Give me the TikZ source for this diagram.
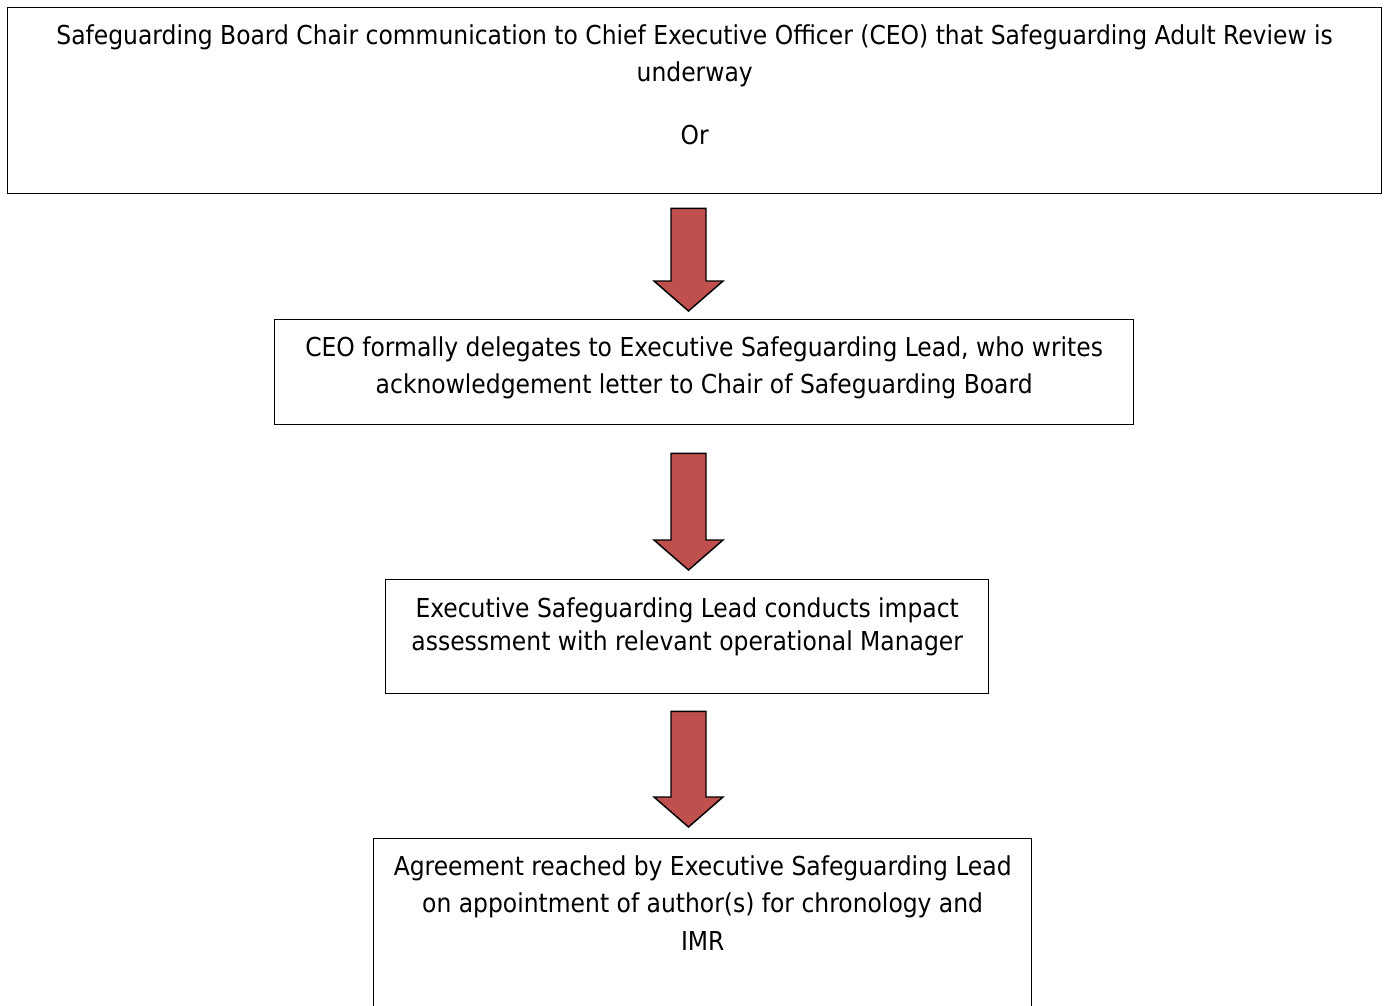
\documentclass[tikz,border=0pt]{standalone}
\usepackage{fontspec}
\setmainfont{DejaVu Sans Condensed}
\usetikzlibrary{calc}
\definecolor{arrowred}{HTML}{C0504D}
\tikzset{
  flowbox/.style={draw=black, line width=1.1pt, anchor=north west, inner sep=0pt},
  flowtext/.style={anchor=north, inner sep=0pt, align=center,
    font=\fontsize{19.55}{27.75}\selectfont},
  downarrow/.style={draw=black, fill=arrowred, line width=1.1pt, line join=miter},
}
% block arrow from the middle of its top edge (#1) to its tip (#2)
\newcommand{\blockarrow}[2]{%
  \draw[downarrow] ($#1+(-17.5,0)$) -- ($#1+(17.5,0)$) -- ($#2+(17.5,-30)$)
    -- ($#2+(34.5,-30)$) -- #2 -- ($#2+(-34.5,-30)$) -- ($#2+(-17.5,-30)$) -- cycle;}

\begin{document}
\begin{tikzpicture}[x=0.75pt,y=-0.75pt]
  \clip (0,0) rectangle (1386,1006);
  \fill[white] (0,0) rectangle (1386,1006);
  \coordinate (spine) at (688.5,0);

  % the four steps
  \node[flowbox, minimum width=1030.5pt, minimum height=139.5pt] (chair) at (7,7) {};
  \node[flowbox, minimum width=644.25pt, minimum height=78.75pt] (deleg) at (274,319) {};
  \node[flowbox, minimum width=452.25pt, minimum height=85.5pt] (impact) at (385,579) {};
  \node[flowbox, minimum width=493.5pt, minimum height=150pt] (author) at (373,838) {};

  \node[flowtext] (chairtxt) at ($(chair.north)+(0,17.5)$)
    {Safeguarding Board Chair communication to Chief Executive Officer (CEO) that Safeguarding Adult Review is\\
     underway\\[19.5pt] Or};
  \node[flowtext] (delegtxt) at ($(deleg.north)+(0,17.5)$)
    {CEO formally delegates to Executive Safeguarding Lead, who writes\\
     acknowledgement letter to Chair of Safeguarding Board};
  \node[flowtext, font=\fontsize{19.55}{24.75}\selectfont] (impacttxt) at ($(impact.north)+(0,18.5)$)
    {Executive Safeguarding Lead conducts impact\\
     assessment with relevant operational Manager};
  \node[flowtext, font=\fontsize{19.55}{28}\selectfont] (authortxt) at ($(author.north)+(0,17.5)$)
    {Agreement reached by Executive Safeguarding Lead\\
     on appointment of author(s) for chronology and\\
     IMR};

  % arrows between the steps
  \coordinate (a1top) at ($(chair.south -| spine)+(0,14)$);
  \coordinate (a1tip) at ($(deleg.north -| spine)+(0,-8)$);
  \coordinate (a2top) at ($(deleg.south -| spine)+(0,28)$);
  \coordinate (a2tip) at ($(impact.north -| spine)+(0,-9)$);
  \coordinate (a3top) at ($(impact.south -| spine)+(0,17)$);
  \coordinate (a3tip) at ($(author.north -| spine)+(0,-11)$);
  \blockarrow{(a1top)}{(a1tip)}
  \blockarrow{(a2top)}{(a2tip)}
  \blockarrow{(a3top)}{(a3tip)}
\end{tikzpicture}
\end{document}
